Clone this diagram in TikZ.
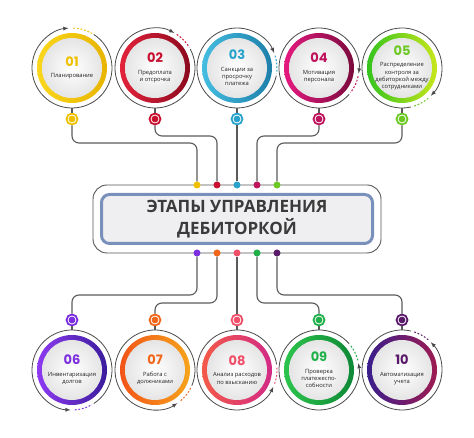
\documentclass[tikz,border=0pt]{standalone}
\usepackage{fontspec}
\setmainfont{Open Sans}
\newfontfamily\numfont{Poppins}
\definecolor{trackgray}{HTML}{4A4A4A}
\definecolor{linkgray}{HTML}{5A5A5A}
\definecolor{textgray}{HTML}{222222}
\definecolor{titlegray}{HTML}{3B3B3B}
\definecolor{boxblue}{HTML}{7890BA}
\definecolor{boxfill}{HTML}{EFEFF2}
\definecolor{framegray}{HTML}{555555}
\definecolor{s1a}{HTML}{F9D71C}\definecolor{s1b}{HTML}{E8B400}\definecolor{n1}{HTML}{EFC000}
\definecolor{s2a}{HTML}{E3223B}\definecolor{s2b}{HTML}{8C0A1E}\definecolor{n2}{HTML}{C8102E}
\definecolor{s3a}{HTML}{45BDE0}\definecolor{s3b}{HTML}{1C7FAA}\definecolor{n3}{HTML}{2AA3CC}
\definecolor{s4a}{HTML}{E51A80}\definecolor{s4b}{HTML}{7A0A3C}\definecolor{n4}{HTML}{C0135E}
\definecolor{s5a}{HTML}{35C41E}\definecolor{s5b}{HTML}{C8E61C}\definecolor{n5}{HTML}{6CC924}
\definecolor{s6a}{HTML}{8E3AF2}\definecolor{s6b}{HTML}{3A1C9C}\definecolor{n6}{HTML}{7B2FE0}
\definecolor{s7a}{HTML}{F25418}\definecolor{s7b}{HTML}{F6A41C}\definecolor{n7}{HTML}{F2661A}
\definecolor{s8a}{HTML}{F45A48}\definecolor{s8b}{HTML}{D22A86}\definecolor{n8}{HTML}{F04F6A}
\definecolor{s9a}{HTML}{2CC44C}\definecolor{s9b}{HTML}{0E8836}\definecolor{n9}{HTML}{1FB04A}
\definecolor{s10a}{HTML}{3A1E8C}\definecolor{s10b}{HTML}{9E1B50}\definecolor{n10}{HTML}{5A1A6A}
\newcommand\stagenum[2]{{\color{#1}\numfont\bfseries\fontsize{13}{13}\selectfont #2}}
\begin{document}
\begin{tikzpicture}[x=1pt,y=1pt,
    stage/.style 2 args={circle, minimum size=70pt, inner sep=0pt, outer sep=5pt,
      left color=#1, right color=#2,
      path picture={\shade[inner color=white, outer color=black!12]
        (path picture bounding box.center) circle (30pt);},
      align=center, text=textgray, font=\fontsize{5.8}{7.4}\selectfont},
    track/.style={draw=trackgray, line width=0.8pt, -latex},
    gapdash/.style={draw=#1, line width=1pt, dash pattern=on 1.8pt off 1.8pt},
    stagedot/.style={circle, draw=#1, line width=1.8pt, fill=white, minimum size=11pt,
      inner sep=0pt, path picture={\fill[#1] (path picture bounding box.center) circle (3.4pt);}},
    busdot/.style={circle, fill=#1, minimum size=7pt, inner sep=0pt},
    link/.style={draw=linkgray, line width=1.1pt, rounded corners=7pt},
    titlebox/.style={rectangle, rounded corners=8pt, draw=boxblue, line width=3pt, fill=boxfill,
      minimum width=271pt, minimum height=49pt, align=center, text=titlegray,
      font=\bfseries\fontsize{17}{22}\selectfont},
    frame/.style={draw=framegray, line width=0.9pt, rounded corners=14pt}]
  \useasboundingbox (0,0) rectangle (474,438);
  \node (title) [titlebox] at (237,219) {ЭТАПЫ УПРАВЛЕНИЯ\\ДЕБИТОРКОЙ};
  \draw[frame] ([shift={(-7,-8)}]title.south west) rectangle ([shift={(7,8)}]title.north east);

  \node (c1) [stage={s1a}{s1b}] at (72,370) {\stagenum{n1}{01}\\[4pt]Планирование};
  \node (c2) [stage={s2a}{s2b}] at (155,370) {\stagenum{n2}{02}\\[4pt]Предоплата\\и отсрочка};
  \node (c3) [stage={s3a}{s3b}] at (237,370) {\stagenum{n3}{03}\\[4pt]Санкции за\\просрочку\\платежа};
  \node (c4) [stage={s4a}{s4b}] at (319,370) {\stagenum{n4}{04}\\[4pt]Мотивация\\персонала};
  \node (c5) [stage={s5a}{s5b}] at (402,370) {\stagenum{n5}{05}\\[4pt]Распределение\\контроля за\\дебиторкой между\\сотрудниками};
  \node (c6) [stage={s6a}{s6b}] at (72,68) {\stagenum{n6}{06}\\[4pt]Инвентаризация\\долгов};
  \node (c7) [stage={s7a}{s7b}] at (155,68) {\stagenum{n7}{07}\\[4pt]Работа с\\должниками};
  \node (c8) [stage={s8a}{s8b}] at (237,68) {\stagenum{n8}{08}\\[4pt]Анализ расходов\\по взысканию};
  \node (c9) [stage={s9a}{s9b}] at (319,68) {\stagenum{n9}{09}\\[4pt]Проверка\\платежеспо-\\собности};
  \node (c10) [stage={s10a}{s10b}] at (402,68) {\stagenum{n10}{10}\\[4pt]Автоматизация\\учета};

  \draw[track] (c1.center) ++(57:40) arc[start angle=57, end angle=-265, radius=40];
  \draw[gapdash=n1] (c1.center) ++(88:40) arc[start angle=88, end angle=60, radius=40];
  \draw[track] (c2.center) ++(28:40) arc[start angle=28, end angle=-299, radius=40];
  \draw[gapdash=n2] (c2.center) ++(57:40) arc[start angle=57, end angle=31, radius=40];
  \draw[track] (c3.center) ++(-11:40) arc[start angle=-11, end angle=-338, radius=40];
  \draw[gapdash=n3] (c3.center) ++(18:40) arc[start angle=18, end angle=-8, radius=40];
  \draw[track] (c4.center) ++(-41:40) arc[start angle=-41, end angle=-368, radius=40];
  \draw[gapdash=n4] (c4.center) ++(-12:40) arc[start angle=-12, end angle=-38, radius=40];
  \draw[track] (c5.center) ++(-77:40) arc[start angle=-77, end angle=-404, radius=40];
  \draw[gapdash=n5] (c5.center) ++(-49:40) arc[start angle=-49, end angle=-74, radius=40];
  \draw[track] (c6.center) ++(-57:40) arc[start angle=-57, end angle=268, radius=40];
  \draw[gapdash=n6] (c6.center) ++(-86:40) arc[start angle=-86, end angle=-60, radius=40];
  \draw[track] (c7.center) ++(-23:40) arc[start angle=-23, end angle=304, radius=40];
  \draw[gapdash=n7] (c7.center) ++(-50:40) arc[start angle=-50, end angle=-26, radius=40];
  \draw[track] (c8.center) ++(8:40) arc[start angle=8, end angle=335, radius=40];
  \draw[gapdash=n8] (c8.center) ++(-20:40) arc[start angle=-20, end angle=5, radius=40];
  \draw[track] (c9.center) ++(41:40) arc[start angle=41, end angle=370, radius=40];
  \draw[gapdash=n9] (c9.center) ++(14:40) arc[start angle=14, end angle=38, radius=40];
  \draw[track] (c10.center) ++(77:40) arc[start angle=77, end angle=404, radius=40];
  \draw[gapdash=n10] (c10.center) ++(49:40) arc[start angle=49, end angle=74, radius=40];

  \node (d1) [stagedot=n1] at (72,319) {};
  \node (d2) [stagedot=n2] at (155,319) {};
  \node (d3) [stagedot=n3] at (237,319) {};
  \node (d4) [stagedot=n4] at (319,319) {};
  \node (d5) [stagedot=n5] at (402,319) {};
  \node (d6) [stagedot=n6] at (72,118) {};
  \node (d7) [stagedot=n7] at (155,118) {};
  \node (d8) [stagedot=n8] at (237,118) {};
  \node (d9) [stagedot=n9] at (319,118) {};
  \node (d10) [stagedot=n10] at (402,118) {};

  \node (t1) [busdot=n1] at (197,253) {};
  \node (t2) [busdot=n2] at (217,253) {};
  \node (t3) [busdot=n3] at (237,253) {};
  \node (t4) [busdot=n4] at (257,253) {};
  \node (t5) [busdot=n5] at (277,253) {};
  \node (b1) [busdot=n6] at (197,185) {};
  \node (b2) [busdot=n7] at (217,185) {};
  \node (b3) [busdot=n8] at (237,185) {};
  \node (b4) [busdot=n9] at (257,185) {};
  \node (b5) [busdot=n10] at (277,185) {};

  \begin{scope}[link]
    \draw (c1) -- (d1);
    \draw (c2) -- (d2);
    \draw (c3) -- (d3);
    \draw (c4) -- (d4);
    \draw (c5) -- (d5);
    \draw (c6) -- (d6);
    \draw (c7) -- (d7);
    \draw (c8) -- (d8);
    \draw (c9) -- (d9);
    \draw (c10) -- (d10);
    \draw (d1) -- (d1 |- 0,295) -- (t1 |- 0,295) -- (t1);
    \draw (d2) -- (d2 |- 0,302) -- (t2 |- 0,302) -- (t2);
    \draw (d3) -- (t3);
    \draw (d4) -- (d4 |- 0,302) -- (t4 |- 0,302) -- (t4);
    \draw (d5) -- (d5 |- 0,295) -- (t5 |- 0,295) -- (t5);
    \draw (b1) -- (b1 |- 0,143) -- (d6 |- 0,143) -- (d6);
    \draw (b2) -- (b2 |- 0,135) -- (d7 |- 0,135) -- (d7);
    \draw (b3) -- (d8);
    \draw (b4) -- (b4 |- 0,135) -- (d9 |- 0,135) -- (d9);
    \draw (b5) -- (b5 |- 0,143) -- (d10 |- 0,143) -- (d10);
  \end{scope}
\end{tikzpicture}
\end{document}
